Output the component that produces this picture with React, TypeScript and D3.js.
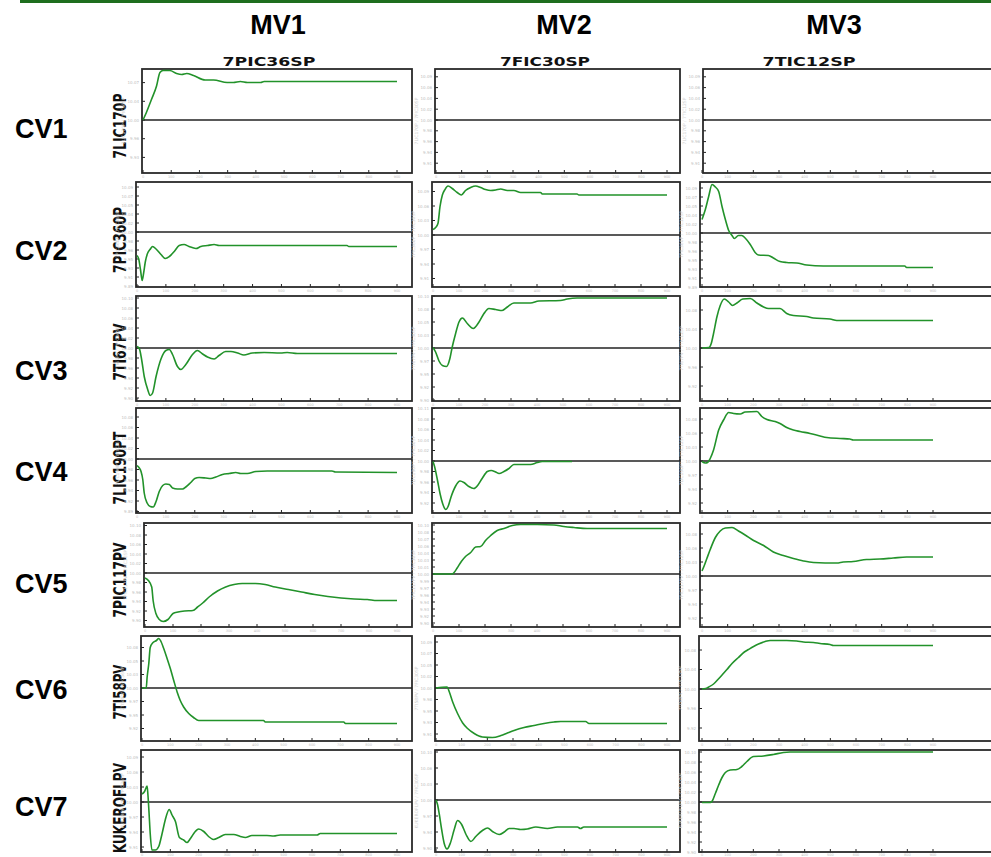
import React from "react";
import * as d3 from "d3";

type P = [number, number];

const mvNames = ["MV1", "MV2", "MV3"];
const mvTags = ["7PIC36SP", "7FIC30SP", "7TIC12SP"];
const cvNames = ["CV1", "CV2", "CV3", "CV4", "CV5", "CV6", "CV7"];
const cvTags = ["7LIC170P", "7PIC360P", "7TI67PV", "7LIC190PT", "7PIC117PV", "7TI58PV", "KUKEROFLPV"];
const xTicks = [0, 10, 20, 30, 40, 50, 60, 70, 80, 90];

// step responses: [time, normalized response]
const cv1mv1: P[] = [[0,0],[1.2,0.15],[3,0.41],[4.8,0.68],[6,0.95],[7.1,0.99],[9.5,0.99],[11.9,0.93],[13.7,0.91],[15.5,0.93],[17.9,0.89],[22,0.8],[25,0.8],[29.8,0.75],[32,0.75],[34.5,0.77],[37,0.75],[41.7,0.75],[42.9,0.77],[90,0.77]];
const cv1mv2: P[] = [];
const cv1mv3: P[] = [];
const cv2mv1: P[] = [[0,-0.47],[0.6,-0.54],[1.2,-0.75],[1.8,-0.97],[2.3,-0.82],[2.9,-0.59],[3.7,-0.42],[4.5,-0.35],[5.4,-0.29],[6.6,-0.34],[8.3,-0.45],[9.8,-0.53],[11.2,-0.49],[12.9,-0.39],[14.6,-0.27],[16.3,-0.25],[18,-0.29],[20.4,-0.33],[22.1,-0.29],[24.4,-0.27],[26.7,-0.25],[28.4,-0.27],[72.7,-0.27],[73.3,-0.29],[90,-0.29]];
const cv2mv2: P[] = [[0,0.11],[1,0.15],[1.9,0.23],[2.7,0.57],[3.6,0.8],[4.5,0.9],[5.8,0.98],[7.4,0.93],[9.3,0.85],[10.9,0.8],[12.5,0.89],[14.5,0.95],[16.4,0.98],[18.3,0.95],[20.2,0.91],[22.2,0.89],[24.1,0.9],[26,0.92],[28.6,0.89],[31.1,0.89],[33.7,0.85],[41.4,0.85],[42,0.82],[55.4,0.82],[56.1,0.8],[90,0.8]];
const cv2mv3: P[] = [[0,0.27],[1.3,0.47],[2.6,0.73],[3.9,0.97],[5.2,0.92],[6.5,0.83],[7.8,0.53],[9.1,0.27],[10.4,0.05],[11.7,-0.05],[12.6,-0.11],[14.2,-0.05],[15.5,-0.05],[16.8,-0.1],[18.8,-0.23],[20.7,-0.39],[22,-0.44],[25.9,-0.45],[27.8,-0.5],[30.4,-0.57],[33,-0.59],[36.9,-0.6],[40.8,-0.64],[47.3,-0.66],[79,-0.66],[79.7,-0.69],[90,-0.69]];
const cv3mv1: P[] = [[0,0.03],[0.8,-0.01],[1.6,-0.23],[2.5,-0.57],[3.7,-0.83],[4.6,-0.95],[5.4,-0.9],[6.6,-0.57],[8.3,-0.22],[10,-0.05],[11.2,-0.03],[12.3,-0.13],[14,-0.37],[15.2,-0.43],[16.9,-0.33],[19.2,-0.13],[20.9,-0.05],[22.7,-0.12],[24.4,-0.18],[26.7,-0.22],[28.4,-0.15],[30.7,-0.07],[32.5,-0.07],[34.8,-0.1],[37,-0.14],[39.9,-0.1],[44,-0.09],[49.7,-0.1],[52,-0.09],[55.5,-0.11],[90,-0.11]];
const cv3mv2: P[] = [[0,0.01],[1,-0.08],[2.3,-0.26],[3.6,-0.35],[5.2,-0.37],[6.5,-0.21],[7.4,0.02],[8.7,0.29],[10,0.52],[11.3,0.6],[13.2,0.49],[15.5,0.39],[17.7,0.52],[19.6,0.69],[21.5,0.79],[24.1,0.77],[26.6,0.75],[28.6,0.82],[31.1,0.9],[37.5,0.9],[40.7,0.94],[49,0.95],[51.6,0.98],[55.4,1.0],[90,1.0]];
const cv3mv3: P[] = [[0,0],[2.7,0.01],[3.6,0.09],[4.5,0.29],[5.8,0.62],[7.1,0.85],[8.7,0.98],[10.4,0.92],[11.9,0.85],[13.6,0.9],[15.9,0.98],[18.8,0.99],[21.4,0.9],[24,0.82],[25.9,0.79],[30.4,0.79],[33,0.69],[35.6,0.65],[40.8,0.63],[43.4,0.6],[49.9,0.58],[52.5,0.55],[90,0.55]];
const cv4mv1: P[] = [[0,-0.13],[0.8,-0.18],[1.4,-0.25],[2,-0.41],[2.5,-0.68],[3.5,-0.88],[4.6,-0.95],[5.6,-0.96],[6.6,-0.85],[7.7,-0.65],[8.9,-0.53],[10,-0.5],[11.2,-0.51],[12.3,-0.58],[14,-0.6],[15.8,-0.6],[16.9,-0.56],[18.6,-0.47],[20,-0.39],[21.5,-0.37],[23.8,-0.38],[25.5,-0.39],[27.3,-0.36],[29.6,-0.31],[31.9,-0.29],[34.2,-0.27],[35.9,-0.29],[38.2,-0.29],[41.1,-0.25],[45.1,-0.24],[67.5,-0.24],[68.7,-0.26],[90,-0.27]];
const cv4mv2: P[] = [[0,-0.01],[0.6,-0.11],[1.7,-0.38],[2.7,-0.65],[3.7,-0.85],[4.9,-0.97],[5.8,-0.91],[7,-0.71],[8.7,-0.5],[10.4,-0.4],[11.9,-0.43],[13.8,-0.51],[15.7,-0.55],[17.3,-0.48],[18.9,-0.35],[20.9,-0.21],[22.4,-0.19],[24.1,-0.22],[25.4,-0.25],[27.3,-0.21],[29.2,-0.15],[31.1,-0.07],[37.5,-0.07],[40.1,-0.03],[42,-0.01],[53.5,-0.01]];
const cv4mv3: P[] = [[0,-0.01],[1.3,-0.04],[2.2,-0.03],[3.2,0.05],[4.5,0.22],[6.5,0.62],[8.4,0.82],[10.4,0.97],[12.3,0.95],[14.9,0.94],[16.8,0.98],[21.4,0.99],[23.3,0.89],[25.3,0.83],[28.5,0.79],[30.4,0.75],[33,0.67],[35.6,0.62],[38.2,0.59],[42.1,0.55],[46,0.5],[48.6,0.47],[53.8,0.45],[57.6,0.44],[58.9,0.42],[90,0.42]];
const cv5mv1: P[] = [[0,-0.1],[1.2,-0.15],[2.4,-0.28],[2.9,-0.55],[3.9,-0.81],[5.1,-0.93],[6.5,-0.97],[8.2,-0.93],[10,-0.81],[11.8,-0.78],[14.1,-0.76],[17.1,-0.75],[18.8,-0.68],[20.6,-0.6],[22.9,-0.48],[25.9,-0.36],[28.8,-0.28],[31.8,-0.23],[34.7,-0.21],[39.4,-0.21],[42.9,-0.23],[46.5,-0.28],[51.2,-0.33],[55.9,-0.38],[60.6,-0.43],[65.3,-0.47],[70,-0.5],[74.7,-0.52],[79.4,-0.53],[82.9,-0.55],[90,-0.55]];
const cv5mv2: P[] = [[0,0],[7.4,0],[8.1,0.03],[9.3,0.12],[10.9,0.25],[12.5,0.35],[14.5,0.43],[16.4,0.54],[18.3,0.55],[20.2,0.67],[22.2,0.77],[24.7,0.87],[27.3,0.91],[30.5,0.97],[33.7,0.99],[40.1,0.99],[46.5,0.98],[50.3,0.95],[54.2,0.93],[59.3,0.91],[90,0.91]];
const cv5mv3: P[] = [[0,0.1],[0.9,0.21],[1.9,0.35],[3.2,0.53],[5.2,0.77],[7.1,0.9],[9.1,0.96],[11.7,0.97],[14.2,0.9],[16.8,0.82],[20.1,0.71],[24,0.61],[27.8,0.48],[31.7,0.41],[35.6,0.35],[39.5,0.3],[43.4,0.27],[52.5,0.26],[55,0.28],[58.9,0.29],[64.1,0.33],[69.3,0.34],[74.5,0.36],[79.7,0.38],[90,0.38]];
const cv6mv1: P[] = [[0,0],[1.5,0],[1.8,0.21],[2.4,0.49],[2.9,0.81],[3.9,0.91],[5.1,0.95],[5.9,0.99],[6.7,0.93],[7.6,0.8],[8.8,0.6],[10,0.39],[11.2,0.15],[12.4,-0.08],[13.5,-0.25],[14.7,-0.38],[16.5,-0.51],[18.2,-0.59],[20,-0.65],[42.9,-0.65],[43.5,-0.68],[71.2,-0.68],[71.8,-0.71],[90,-0.71]];
const cv6mv2: P[] = [[0,0],[4.3,0.02],[5.2,-0.08],[6.5,-0.28],[8.4,-0.51],[10.4,-0.7],[12.3,-0.81],[14.9,-0.91],[18.1,-0.98],[22,-0.99],[25.3,-0.95],[27.8,-0.9],[30.4,-0.85],[34.3,-0.79],[38.2,-0.75],[42.1,-0.71],[46,-0.68],[48.6,-0.67],[58.3,-0.67],[59.6,-0.71],[90,-0.71]];
const cv6mv3: P[] = [[0,0],[1.4,0.01],[2.6,0.04],[4.5,0.1],[6.2,0.19],[7.8,0.28],[9.7,0.39],[11.7,0.51],[14.2,0.63],[16.5,0.74],[18.1,0.79],[20.1,0.85],[22,0.9],[24.6,0.95],[26.6,0.97],[33,0.97],[36.9,0.96],[39.5,0.94],[43.4,0.93],[46,0.91],[49.9,0.89],[51.2,0.87],[90,0.87]];
const cv7mv1: P[] = [[0,0.16],[0.9,0.21],[1.8,0.32],[2.1,0.14],[2.5,-0.23],[2.9,-0.63],[3.5,-0.96],[4.7,-0.96],[5.9,-0.89],[7.1,-0.63],[8.2,-0.36],[9.6,-0.15],[10.6,-0.26],[11.8,-0.39],[13.2,-0.71],[14.7,-0.76],[15.9,-0.81],[17.1,-0.73],[18.8,-0.59],[20,-0.54],[21.8,-0.59],[23.5,-0.69],[25.3,-0.75],[27.1,-0.71],[29.4,-0.65],[32.4,-0.65],[34.7,-0.69],[36.5,-0.71],[38.8,-0.67],[44.1,-0.67],[46.5,-0.68],[48.8,-0.66],[61.8,-0.66],[62.9,-0.63],[90,-0.63]];
const cv7mv2: P[] = [[0,0],[0.6,-0.09],[1.3,-0.29],[2.2,-0.59],[3.2,-0.87],[4.3,-0.98],[5.6,-0.86],[7.1,-0.59],[8.4,-0.41],[10,-0.49],[11.7,-0.69],[13.6,-0.83],[15.5,-0.73],[18.1,-0.61],[20.1,-0.56],[22,-0.63],[24.6,-0.69],[26.6,-0.64],[28.5,-0.57],[30.4,-0.57],[33,-0.59],[35.6,-0.58],[38.9,-0.54],[43.4,-0.57],[47.3,-0.54],[55.1,-0.54],[56.3,-0.57],[57.6,-0.54],[90,-0.54]];
const cv7mv3: P[] = [[0,-0.01],[3.2,-0.01],[4,0.02],[5.2,0.17],[6.5,0.34],[7.8,0.49],[9.1,0.59],[11,0.64],[13.6,0.65],[15.5,0.71],[17.5,0.81],[20.1,0.91],[24,0.92],[27.8,0.95],[31.7,0.99],[34.3,1.0],[90,1.0]];

const responses: P[][][] = [
  [cv1mv1, cv1mv2, cv1mv3],
  [cv2mv1, cv2mv2, cv2mv3],
  [cv3mv1, cv3mv2, cv3mv3],
  [cv4mv1, cv4mv2, cv4mv3],
  [cv5mv1, cv5mv2, cv5mv3],
  [cv6mv1, cv6mv2, cv6mv3],
  [cv7mv1, cv7mv2, cv7mv3],
];

// ---------- layout (pixels) ----------
const W = 991;
const H = 857;
const rowTop = [69, 182, 296, 408, 523, 636, 750];
const rowBottom = [173, 287, 401, 513, 627, 741, 852];
const colLeft = [
  [142, 435, 703],
  [136, 432, 700],
  [136, 432, 700],
  [136, 432, 700],
  [144, 432, 700],
  [141, 435, 699],
  [141, 435, 699],
];
const colRight = [412, 680, 1005];
const xEnd = [397, 667, 933];
const zeroY = [
  [120, 120, 120],
  [232, 235, 233],
  [348, 348, 348],
  [459, 461, 461],
  [573, 574, 576],
  [688, 688, 689],
  [802, 800, 802],
];
const tickPx = [
  [18.7, 10.8, 10.8],
  [9, 14.5, 9],
  [10, 13, 19],
  [10.5, 10.5, 14],
  [9.5, 7, 14],
  [13.5, 11.5, 19.5],
  [15, 16, 10],
];
const UNIT = 50; // px per response unit
const headerX = [278, 564, 834];
const tagX = [269, 545, 809];
const tagW = [93, 90, 93];
const cvLabelY = [138, 260, 380, 481, 593, 699, 816];
const cvTagY = [126, 240, 352, 468, 580, 692, 808];
const cvTagW = [65, 66, 57, 73, 75, 55, 90];

const GREEN = "#22922a";

function Panel({ r, c }: { r: number; c: number }) {
  const top = rowTop[r];
  const bottom = rowBottom[r];
  const left = colLeft[r][c];
  const right = colRight[c];
  const z = zeroY[r][c];
  const x0 = c === 2 ? 702 : left + 1;
  const x = d3.scaleLinear().domain([0, 90]).range([x0, xEnd[c]]);
  const y = d3
    .scaleLinear()
    .domain([(z - bottom) / UNIT, (z - top) / UNIT])
    .range([bottom, top]);
  const step = tickPx[r][c] / UNIT;
  const [lo, hi] = y.domain();
  const yt: number[] = [];
  for (let k = Math.ceil(lo / step); k <= Math.floor(hi / step); k++) yt.push(k * step);
  const line = d3
    .line<P>()
    .x((d) => x(d[0]))
    .y((d) => y(d[1]))
    .curve(d3.curveMonotoneX);
  const data = responses[r][c];
  const fmt = d3.format(".2f");
  const labY = Math.min(bottom + 4.5, H - 1);
  return (
    <g>
      {yt.map((v, i) => (
        <g key={"yt" + i}>
          <line x1={left} x2={left + 3} y1={y(v)} y2={y(v)} stroke="#222" strokeWidth={1} />
          <text x={left - 3} y={y(v) + 1.5} fontSize={4} fill="#bdbdbd" textAnchor="end" fontFamily="DejaVu Sans">
            {fmt(v * 0.1 + 10)}
          </text>
        </g>
      ))}
      <text
        transform={`translate(${left - 17},${(top + bottom) / 2}) rotate(-90)`}
        fontSize={4.5}
        fill="#cfcfcf"
        textAnchor="middle"
        fontFamily="DejaVu Sans"
      >
        {cvTags[r] + " / " + mvTags[c]}
      </text>
      {xTicks.map((t) => (
        <g key={"xt" + t}>
          <line x1={x(t)} x2={x(t)} y1={bottom} y2={bottom - 3} stroke="#222" strokeWidth={1} />
          <text x={x(t)} y={labY} fontSize={3.5} fill="#bdbdbd" textAnchor="middle" fontFamily="DejaVu Sans">
            {t * 10}
          </text>
        </g>
      ))}
      <rect x={left} y={top} width={right - left} height={bottom - top} fill="none" stroke="#2a2a2a" strokeWidth={1.8} />
      <line x1={left} x2={right} y1={y(0)} y2={y(0)} stroke="#222" strokeWidth={1.3} />
      {data.length > 0 && (
        <path d={line(data) || ""} fill="none" stroke={GREEN} strokeWidth={1.6} strokeLinejoin="round" />
      )}
    </g>
  );
}

export default function App() {
  return (
    <div style={{ position: "absolute", left: 0, top: 0, width: W, height: H, background: "#fff" }}>
      <svg width={W} height={H} viewBox={`0 0 ${W} ${H}`} style={{ display: "block" }}>
        <rect x={0} y={0} width={W} height={H} fill="#ffffff" />
        <rect x={20} y={0} width={W - 20} height={3} fill="#1e6e1e" />
        {mvNames.map((m, i) => (
          <text
            key={m}
            x={headerX[i]}
            y={34}
            textAnchor="middle"
            fontFamily="Liberation Sans, Arial, sans-serif"
            fontWeight="bold"
            fontSize={27}
            fill="#000"
          >
            {m}
          </text>
        ))}
        {mvTags.map((m, i) => (
          <text
            key={m}
            x={tagX[i]}
            y={66}
            textAnchor="middle"
            fontFamily="DejaVu Sans, sans-serif"
            fontWeight="bold"
            fontSize={11.5}
            fill="#111"
            textLength={tagW[i]}
            lengthAdjust="spacingAndGlyphs"
          >
            {m}
          </text>
        ))}
        {cvNames.map((cv, r) => (
          <text
            key={cv}
            x={15}
            y={cvLabelY[r]}
            fontFamily="Liberation Sans, Arial, sans-serif"
            fontWeight="bold"
            fontSize={27}
            fill="#000"
          >
            {cv}
          </text>
        ))}
        {cvTags.map((t, r) => (
          <text
            key={t}
            transform={`translate(126,${cvTagY[r]}) rotate(-90)`}
            textAnchor="middle"
            fontFamily="DejaVu Sans Condensed, DejaVu Sans, sans-serif"
            fontWeight="bold"
            fontSize={18}
            fill="#111"
            textLength={cvTagW[r]}
            lengthAdjust="spacingAndGlyphs"
          >
            {t}
          </text>
        ))}
        {responses.map((row, r) =>
          row.map((_, c) => <Panel key={`p${r}-${c}`} r={r} c={c} />)
        )}
      </svg>
    </div>
  );
}
